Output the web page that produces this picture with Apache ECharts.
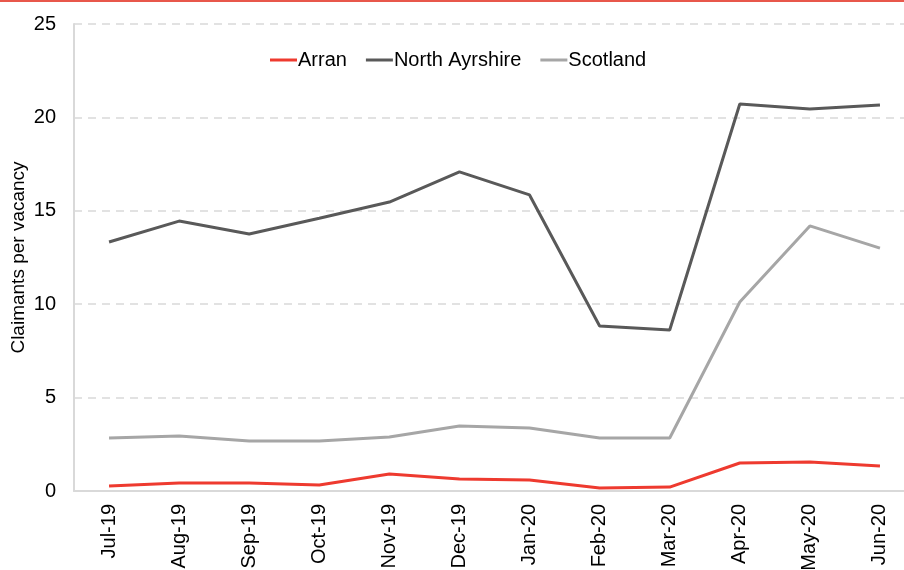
<!DOCTYPE html>
<html>
<head>
<meta charset="utf-8">
<script src="https://cdn.jsdelivr.net/npm/echarts@6/dist/echarts.min.js"></script>
<style>
  html, body { margin: 0; padding: 0; background: #fff; }
  #main { width: 904px; height: 570px; }
</style>
</head>
<body>
<div id="main"></div>
<script>
var months = ['Jul-19', 'Aug-19', 'Sep-19', 'Oct-19', 'Nov-19', 'Dec-19',
              'Jan-20', 'Feb-20', 'Mar-20', 'Apr-20', 'May-20', 'Jun-20'];
var arran = [0.27, 0.43, 0.43, 0.32, 0.91, 0.64, 0.59, 0.16, 0.21, 1.50, 1.55, 1.34];
var northAyrshire = [13.33, 14.45, 13.76, 14.6, 15.47, 17.08, 15.85, 8.83, 8.62, 20.72, 20.45, 20.66];
var scotland = [2.84, 2.94, 2.68, 2.68, 2.89, 3.48, 3.37, 2.84, 2.84, 10.12, 14.19, 13.0];

var myChart = echarts.init(document.getElementById('main'));

var font = 'Liberation Sans, Arial, sans-serif';

function line(name, data, color) {
	return {
		name: name,
		type: 'line',
		data: data,
		showSymbol: false,
		symbol: 'none',
		lineStyle: { color: color, width: 3 },
		itemStyle: { color: color }
	};
}

myChart.setOption({
	animation: false,
	textStyle: { fontFamily: font },
	graphic: [{
		type: 'rect',
		shape: { x: 0, y: 0, width: 904, height: 2 },
		style: { fill: '#e8574b' }
	}],
	legend: {
		top: 45,
		left: 265,
		icon: 'rect',
		itemWidth: 27,
		itemHeight: 3,
		itemGap: 19,
		textStyle: { fontSize: 20, color: '#000', padding: [0, 0, 0, -4] },
		data: ['Arran', 'North Ayrshire', 'Scotland']
	},
	grid: { left: 74, top: 24, bottom: 79, right: -11, containLabel: false, outerBoundsMode: 'none' },
	xAxis: {
		type: 'category',
		data: months,
		boundaryGap: true,
		axisLine: { lineStyle: { color: '#d9d9d9', width: 2 } },
		axisTick: { show: false },
		axisLabel: { rotate: 90, fontSize: 20, color: '#000', margin: 13, fontFamily: font }
	},
	yAxis: {
		type: 'value',
		min: 0,
		max: 25,
		interval: 5,
		name: 'Claimants per vacancy',
		nameLocation: 'middle',
		nameGap: 46,
		nameMoveOverlap: false,
		nameTextStyle: { fontSize: 19, color: '#000', fontFamily: font },
		axisLine: { show: true, lineStyle: { color: '#d9d9d9', width: 2 } },
		axisTick: { show: false },
		axisLabel: { fontSize: 20, color: '#000', margin: 18, fontFamily: font },
		splitLine: { lineStyle: { color: '#d9d9d9', type: [8, 6], width: 1.5 } }
	},
	series: [
		line('Arran', arran, '#ee3a2f'),
		line('North Ayrshire', northAyrshire, '#595959'),
		line('Scotland', scotland, '#a6a6a6')
	]
});
</script>
</body>
</html>
